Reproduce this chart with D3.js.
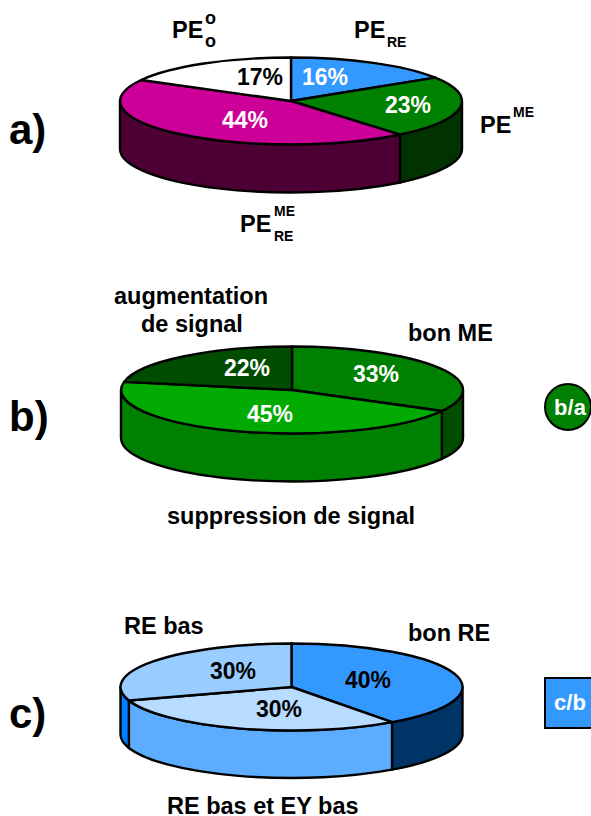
<!DOCTYPE html>
<html>
<head>
<meta charset="utf-8">
<script src="https://cdnjs.cloudflare.com/ajax/libs/d3/7.8.5/d3.min.js"></script>
<style>
  html, body { margin: 0; padding: 0; background: #fff; }
  svg { display: block; }
  text { font-family: "Liberation Sans", Arial, sans-serif; font-weight: bold; fill: #000; }
</style>
</head>
<body>
<svg id="chart"></svg>
<script>
// Values
const valuesA = [16, 23, 44, 17];
const valuesB = [33, 45, 22];
const valuesC = [40, 30, 30];

// Slice colours, clockwise from the top
const topColorsA = ['#3399ff', '#008000', '#cc0099', '#ffffff'];
const wallColorsA = ['#3399ff', '#003300', '#4d0033', '#cccccc'];
const textColorsA = ['#fff', '#fff', '#fff', '#000'];
const topColorsB = ['#008000', '#00aa00', '#004d00'];
const wallColorsB = ['#004d00', '#008000', '#004d00'];
const textColorsB = ['#fff', '#fff', '#fff'];
const topColorsC = ['#3399ff', '#b8dcff', '#99ccff'];
const wallColorsC = ['#003366', '#5cacff', '#0080ff'];
const textColorsC = ['#000', '#000', '#000'];

const width = 591;
const height = 816;

const svg = d3.select('#chart').attr('width', width).attr('height', height);

const pie = d3.pie().sort(null).value(d => d);
const arc = d3.arc().innerRadius(0).outerRadius(1);

// Draws one tilted pie: walls first, then the top face
function drawPie(cfg) {
  const { cx, cy, rx, ry, depth, values, topColors, wallColors, textColors, pctPos } = cfg;
  const g = svg.append('g');
  const slices = pie(values);

  // Only the front half of the rim is visible (90deg to 270deg clockwise from top)
  const px = a => cx + rx * Math.sin(a);
  const py = a => cy - ry * Math.cos(a);
  const walls = slices
    .map((s, i) => ({
      a0: Math.max(s.startAngle, Math.PI / 2),
      a1: Math.min(s.endAngle, Math.PI * 1.5),
      color: wallColors[i]
    }))
    .filter(w => w.a1 > w.a0);

  g.selectAll('path.wall')
    .data(walls)
    .join('path')
    .attr('class', 'wall')
    .attr('fill', d => d.color)
    .attr('stroke', '#000')
    .attr('stroke-width', 2.4)
    .attr('stroke-linejoin', 'round')
    .attr('d', d =>
      `M${px(d.a0)},${py(d.a0)}` +
      `A${rx},${ry} 0 0 1 ${px(d.a1)},${py(d.a1)}` +
      `L${px(d.a1)},${py(d.a1) + depth}` +
      `A${rx},${ry} 0 0 0 ${px(d.a0)},${py(d.a0) + depth}Z`);

  g.append('g')
    .attr('transform', `translate(${cx},${cy}) scale(${rx},${ry})`)
    .selectAll('path')
    .data(slices)
    .join('path')
    .attr('d', arc)
    .attr('fill', (d, i) => topColors[i])
    .attr('stroke', '#000')
    .attr('stroke-width', 2.4)
    .attr('stroke-linejoin', 'round')
    .attr('vector-effect', 'non-scaling-stroke');

  g.selectAll('text')
    .data(values)
    .join('text')
    .attr('x', (d, i) => pctPos[i][0])
    .attr('y', (d, i) => pctPos[i][1])
    .attr('text-anchor', 'middle')
    .attr('font-size', 23)
    .style('fill', (d, i) => textColors[i])
    .text(d => d + '%');
}

drawPie({
  cx: 291, cy: 101, rx: 171, ry: 43.5, depth: 48,
  values: valuesA, topColors: topColorsA, wallColors: wallColorsA, textColors: textColorsA,
  pctPos: [[325, 85], [408, 113], [245, 128], [260, 85]]
});
drawPie({
  cx: 292, cy: 390, rx: 171, ry: 43.5, depth: 48,
  values: valuesB, topColors: topColorsB, wallColors: wallColorsB, textColors: textColorsB,
  pctPos: [[376, 382], [270, 422], [247, 376]]
});
drawPie({
  cx: 291.5, cy: 687, rx: 171, ry: 43.5, depth: 47.5,
  values: valuesC, topColors: topColorsC, wallColors: wallColorsC, textColors: textColorsC,
  pctPos: [[368, 688], [279, 717], [233, 679]]
});

// Text labels
const labels = [
  ['a)', 9, 144, 42], ['b)', 9, 431, 42], ['c)', 9, 728, 42],
  ['PE', 172, 38, 23.5], ['o', 205, 24, 18], ['o', 205, 47, 18],
  ['PE', 354, 38, 23.5], ['RE', 387, 47, 14],
  ['PE', 480, 133, 23.5], ['ME', 513, 117, 14],
  ['PE', 240, 232, 23.5], ['ME', 274, 216, 14], ['RE', 274, 241, 14],
  ['augmentation', 114, 304, 23.5], ['de signal', 141, 332, 23.5],
  ['bon ME', 408, 341, 23.5], ['suppression de signal', 167, 524, 23.5],
  ['RE bas', 124, 634, 23.5], ['bon RE', 408, 641, 23.5], ['RE bas et EY bas', 167, 814, 23.5]
];

svg.append('g').selectAll('text')
  .data(labels)
  .join('text')
  .attr('x', d => d[1])
  .attr('y', d => d[2])
  .attr('font-size', d => d[3])
  .text(d => d[0]);

// Ratio badges at the right edge
svg.append('circle')
  .attr('cx', 568).attr('cy', 407).attr('r', 23)
  .attr('fill', '#008000').attr('stroke', '#000').attr('stroke-width', 2);
svg.append('rect')
  .attr('x', 545).attr('y', 678).attr('width', 60).attr('height', 50)
  .attr('fill', '#3399ff').attr('stroke', '#000').attr('stroke-width', 2);
svg.append('text').attr('x', 570).attr('y', 415).attr('text-anchor', 'middle')
  .attr('font-size', 22).style('fill', '#fff').text('b/a');
svg.append('text').attr('x', 570).attr('y', 710).attr('text-anchor', 'middle')
  .attr('font-size', 22).style('fill', '#fff').text('c/b');
</script>
</body>
</html>
